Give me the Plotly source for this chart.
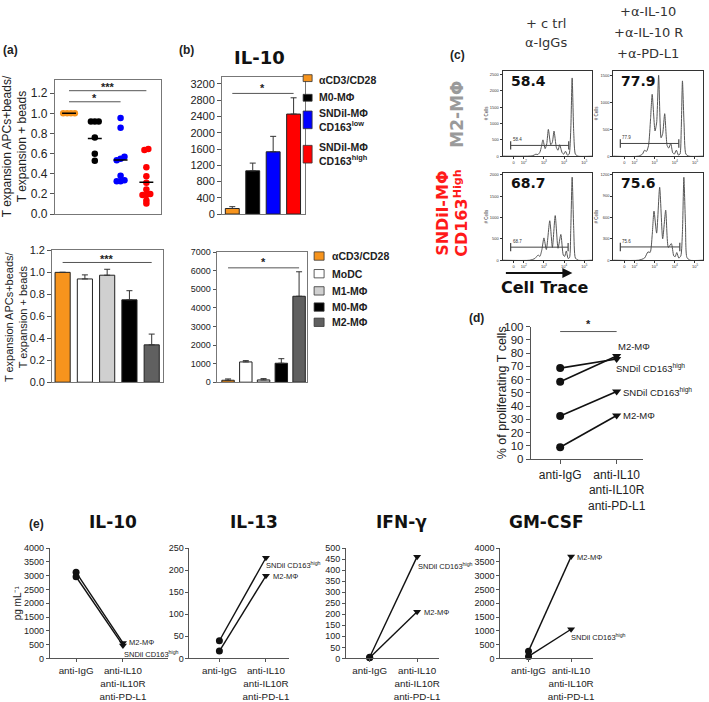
import plotly.graph_objects as go

W, H = 709, 702
FONT = "Liberation Sans, Arial, sans-serif"
VFONT = "DejaVu Sans, Verdana, sans-serif"

# ------------------------- DATA -------------------------
# (a) top: dot plot
a_top_colors = ["#F7941D", "#000000", "#0000FF", "#FF0000"]
a_top_values = [
    [1.0, 1.0, 1.0, 1.0],
    [0.92, 0.92, 0.92, 0.76, 0.60, 0.53],
    [0.955, 0.857, 0.57, 0.55, 0.535, 0.38, 0.335, 0.325, 0.325],
    [0.645, 0.635, 0.465, 0.375, 0.31, 0.245, 0.20, 0.19, 0.19, 0.135, 0.105],
]
a_top_medians = [1.0, 0.75, 0.537, 0.316]

# (a) bottom: bars
a_bot_colors = ["#F7941D", "#FFFFFF", "#D0D0D0", "#000000", "#606060"]
a_bot_values = [1.0, 0.94, 0.974, 0.75, 0.34]
a_bot_err = [0.0, 0.037, 0.054, 0.083, 0.098]

# (b) top: IL-10 bars
b_top_colors = ["#F7941D", "#000000", "#0000FF", "#FF0000"]
b_top_values = [137, 1064, 1532, 2460]
b_top_err = [45, 190, 380, 400]
b_top_legend = ["αCD3/CD28", "M0-MΦ", "SNDil-MΦ<br>CD163<sup>low</sup>", "SNDil-MΦ<br>CD163<sup>high</sup>"]

# (b) bottom bars
b_bot_colors = ["#F7941D", "#FFFFFF", "#D0D0D0", "#000000", "#606060"]
b_bot_values = [105, 1090, 123, 1020, 4622]
b_bot_err = [70, 70, 70, 245, 1318]
b_bot_legend = ["αCD3/CD28", "MoDC", "M1-MΦ", "M0-MΦ", "M2-MΦ"]

# (c) flow histograms (x in decades of Cell Trace, y = # cells)
h_tl_x = [0.9, 2.2, 2.45, 2.6, 2.7, 2.8, 2.88, 2.95, 3.06, 3.14, 3.22, 3.34, 3.42, 3.5, 3.62, 3.7, 3.78, 3.9, 3.98, 4.07, 4.17, 4.25, 4.33, 4.4, 4.48, 4.56, 4.7, 5.4]
h_tl_y = [0, 0, 15, 60, 50, 120, 300, 500, 230, 380, 820, 350, 430, 770, 260, 180, 350, 110, 60, 150, 30, 60, 800, 2400, 700, 60, 0, 0]
h_tr_x = [0.9, 2.2, 2.4, 2.5, 2.6, 2.7, 2.8, 2.88, 3.02, 3.1, 3.2, 3.32, 3.4, 3.5, 3.62, 3.7, 3.8, 3.9, 3.98, 4.08, 4.18, 4.26, 4.32, 4.38, 4.46, 4.55, 4.7, 5.4]
h_tr_y = [0, 0, 40, 110, 90, 200, 700, 1155, 470, 620, 1510, 343, 420, 793, 200, 150, 237, 60, 40, 112, 20, 40, 500, 1405, 600, 40, 0, 0]
h_bl_x = [0.9, 2.3, 2.55, 2.71, 2.8, 2.9, 3.0, 3.12, 3.29, 3.42, 3.56, 3.7, 3.84, 3.96, 4.03, 4.11, 4.2, 4.27, 4.33, 4.4, 4.48, 4.56, 4.7, 5.4]
h_bl_y = [0, 0, 40, 120, 90, 250, 523, 250, 926, 300, 1047, 280, 604, 120, 90, 217, 40, 60, 700, 1950, 700, 50, 0, 0]
h_br_x = [0.9, 2.2, 2.5, 2.67, 2.78, 2.88, 2.97, 3.1, 3.25, 3.4, 3.55, 3.68, 3.83, 3.95, 4.02, 4.1, 4.2, 4.3, 4.38, 4.45, 4.53, 4.6, 4.75, 5.4]
h_br_y = [0, 0, 30, 116, 110, 350, 688, 380, 1023, 300, 702, 180, 233, 60, 50, 107, 30, 60, 400, 1163, 500, 40, 0, 0]
h_pct = ["58.4", "77.9", "68.7", "75.6"]
h_gates = [[1.35, 4.23, 330], [1.3, 4.2, 237], [1.35, 4.2, 306], [1.3, 4.25, 186]]
h_ymax = [2620, 1594, 2050, 1225]
h_dtick = [500, 500, 500, 300]
h_ticks_x = [1.5, 2, 3, 4, 5]
h_ticks_txt = ["0", "10<sup>2</sup>", "10<sup>3</sup>", "10<sup>4</sup>", "10<sup>5</sup>"]

# (d) proliferating T cells
cond_labels = ["anti-IgG", "anti-IL10<br>anti-IL10R<br>anti-PD-L1"]
d_m2_a = [58.4, 77.9]
d_snd_a = [68.7, 75.6]
d_snd_b = [32.5, 51.0]
d_m2_b = [9.0, 33.0]

# (e) cytokines, pg/mL
e_titles = ["IL-10", "IL-13", "IFN-γ", "GM-CSF"]
e_m2 = [[3120, 560], [16.5, 187], [3, 211], [263, 3690]]
e_snd = [[2960, 470], [40, 228], [5, 461], [70, 1057]]
e_ymax = [4000, 250, 500, 4000]
e_dtick = [500, 50, 50, 500]

SND = "SNDil CD163<sup>high</sup>"
M2 = "M2-MΦ"

# ------------------------- HELPERS -------------------------
fig = go.Figure()
annotations = []
shapes = []
lay = {}


def names(n):
    if n == 1:
        return "xaxis", "yaxis", "x", "y"
    return f"xaxis{n}", f"yaxis{n}", f"x{n}", f"y{n}"


def axes(n, xpx, ypx, xopt, yopt):
    xa, ya, xr, yr = names(n)
    base = dict(showgrid=False, zeroline=False, showline=True, linecolor="#555", linewidth=1)
    xd = dict(base, domain=[xpx[0] / W, xpx[1] / W], anchor=yr)
    xd.update(xopt)
    yd = dict(base, domain=[1 - ypx[1] / H, 1 - ypx[0] / H], anchor=xr)
    yd.update(yopt)
    lay[xa] = xd
    lay[ya] = yd
    return xr, yr


def ann(text, x, y, size=11, color="#222", bold=False, font=FONT, angle=0,
        xanchor="center", yanchor="middle", xref="paper", yref="paper", align="center"):
    if bold:
        text = f"<b>{text}</b>"
    if xref == "paper":
        x = x / W
    if yref == "paper":
        y = 1 - y / H
    annotations.append(dict(text=text, x=x, y=y, xref=xref, yref=yref, showarrow=False,
                            font=dict(size=size, color=color, family=font), textangle=angle,
                            xanchor=xanchor, yanchor=yanchor, align=align))


def sig(xr, yr, x0, x1, y, star, ystar):
    shapes.append(dict(type="line", xref=xr, yref=yr, x0=x0, x1=x1, y0=y, y1=y,
                       line=dict(color="#555", width=1)))
    annotations.append(dict(text=f"<b>{star}</b>", x=(x0 + x1) / 2, y=ystar, xref=xr, yref=yr,
                            showarrow=False, font=dict(size=11, color="#222", family=FONT)))


def beeswarm(vals, step=0.15, thr=0.03):
    s = sorted(range(len(vals)), key=lambda i: vals[i])
    clusters, cur = [], [s[0]]
    for i in s[1:]:
        if abs(vals[i] - vals[cur[-1]]) < thr:
            cur.append(i)
        else:
            clusters.append(cur)
            cur = [i]
    clusters.append(cur)
    off = [0.0] * len(vals)
    for c in clusters:
        n = len(c)
        for k, i in enumerate(c):
            off[i] = (k - (n - 1) / 2) * step
    return off


box_ax = dict(mirror=True, linecolor="#777")
yfont = dict(size=12, color="#222", family=FONT)

# ------------------------- (a) top -------------------------
xr, yr = axes(1, (55, 161), (75, 212),
              dict(box_ax, range=[-0.55, 3.55], showticklabels=False, ticks=""),
              dict(box_ax, range=[0, 1.335], tickvals=[0, 0.2, 0.4, 0.6, 0.8, 1.0, 1.2],
                   tickformat=".1f", ticks="outside", ticklen=4, tickcolor="#555", tickfont=yfont))
for g, vals in enumerate(a_top_values):
    off = beeswarm(vals)
    fig.add_trace(go.Scatter(x=[g + o for o in off], y=vals, mode="markers", xaxis=xr, yaxis=yr,
                             marker=dict(color=a_top_colors[g], size=6.5), showlegend=False))
    fig.add_trace(go.Scatter(x=[g - 0.27, g + 0.27], y=[a_top_medians[g]] * 2, mode="lines",
                             xaxis=xr, yaxis=yr, line=dict(color="black", width=1.5), showlegend=False))
sig(xr, yr, 0, 3, 1.225, "***", 1.265)
sig(xr, yr, 0, 2, 1.115, "*", 1.155)
ann("T expansion APCs+beads/<br>T expansion + beads", 15, 143, size=12, angle=-90)
ann("(a)", 11, 45, size=12, bold=True)

# ------------------------- (a) bottom -------------------------
xr, yr = axes(2, (52.3, 163.3), (249, 383.3),
              dict(box_ax, range=[-0.47, 4.5], showticklabels=False, ticks=""),
              dict(box_ax, range=[0, 1.2], tickvals=[0, 0.2, 0.4, 0.6, 0.8, 1.0, 1.2],
                   tickformat=".1f", ticks="outside", ticklen=4, tickcolor="#555",
                   tickfont=dict(size=11, color="#222", family=FONT)))
fig.add_trace(go.Bar(x=list(range(5)), y=a_bot_values, width=0.68, xaxis=xr, yaxis=yr,
                     marker=dict(color=a_bot_colors, line=dict(color="#222", width=1)),
                     error_y=dict(type="data", array=a_bot_err, arrayminus=[0] * 5, symmetric=False,
                                  color="#333", thickness=1, width=3), showlegend=False))
sig(xr, yr, 0, 4, 1.09, "***", 1.125)
ann("T expansion APCs+beads/<br>T expansion + beads", 16, 316, size=11, angle=-90)

# ------------------------- (b) top -------------------------
xr, yr = axes(3, (222.7, 305.7), (72, 212),
              dict(box_ax, range=[-0.5, 3.55], showticklabels=False, ticks=""),
              dict(box_ax, range=[0, 3380], dtick=400, ticks="outside", ticklen=4, tickcolor="#555",
                   tickfont=dict(size=11, color="#222", family=FONT)))
fig.add_trace(go.Bar(x=list(range(4)), y=b_top_values, width=0.68, xaxis=xr, yaxis=yr,
                     marker=dict(color=b_top_colors, line=dict(color="#222", width=1)),
                     error_y=dict(type="data", array=b_top_err, arrayminus=[0] * 4, symmetric=False,
                                  color="#333", thickness=1, width=3), showlegend=False))
sig(xr, yr, 0, 3, 2968, "*", 3110)
ann("IL-10", 260, 52, size=18, bold=True, font=VFONT, color="#111")
ann("(b)", 187, 45, size=12, bold=True)

leg_top_rects = [(70, 77), (90, 97), (107, 125), (142, 160)]
leg_top_text_y = [75, 93, 116, 151]
for i, (y0, y1) in enumerate(leg_top_rects):
    shapes.append(dict(type="rect", xref="paper", yref="paper", x0=304 / W, x1=313 / W,
                       y0=1 - y1 / H, y1=1 - y0 / H, fillcolor=b_top_colors[i],
                       line=dict(color="#333", width=0.8)))
    ann(b_top_legend[i], 318, leg_top_text_y[i], size=10.5, bold=True, xanchor="left", align="left")

# ------------------------- (b) bottom -------------------------
xr, yr = axes(4, (217.3, 308.3), (250.7, 383.3),
              dict(box_ax, range=[-0.64, 4.47], showticklabels=False, ticks=""),
              dict(box_ax, range=[0, 7000], dtick=1000, ticks="outside", ticklen=3, tickcolor="#555",
                   tickfont=dict(size=9, color="#222", family=FONT)))
fig.add_trace(go.Bar(x=list(range(5)), y=b_bot_values, width=0.7, xaxis=xr, yaxis=yr,
                     marker=dict(color=b_bot_colors, line=dict(color="#222", width=1)),
                     error_y=dict(type="data", array=b_bot_err, arrayminus=[0] * 5, symmetric=False,
                                  color="#333", thickness=1, width=3), showlegend=False))
sig(xr, yr, 0, 4, 6150, "*", 6450)
leg_bot_rects = [(250.5, 259), (268.5, 277), (286, 294.5), (302.5, 311), (318, 326.5)]
for i, (y0, y1) in enumerate(leg_bot_rects):
    shapes.append(dict(type="rect", xref="paper", yref="paper", x0=315 / W, x1=325 / W,
                       y0=1 - y1 / H, y1=1 - y0 / H, fillcolor=b_bot_colors[i],
                       line=dict(color="#333", width=0.8)))
    ann(b_bot_legend[i], 331, (y0 + y1) / 2, size=10.5, bold=True, xanchor="left", align="left")

# ------------------------- (c) histograms -------------------------
hists = [(h_tl_x, h_tl_y), (h_tr_x, h_tr_y), (h_bl_x, h_bl_y), (h_br_x, h_br_y)]
hist_boxes = [((504, 594), (66, 153)), ((615, 705), (66, 153)),
              ((504, 594), (170, 259)), ((615, 705), (170, 259))]
tiny = dict(size=4, color="#333", family=FONT)
for k in range(4):
    n = 5 + k
    xpx, ypx = hist_boxes[k]
    xr, yr = axes(n, xpx, ypx,
                  dict(mirror=True, linecolor="#333", range=[0.95, 5.4], tickvals=h_ticks_x,
                       ticktext=h_ticks_txt, ticks="outside", ticklen=2, tickcolor="#333", tickfont=tiny,
                       tickangle=0),
                  dict(mirror=True, linecolor="#333", range=[0, h_ymax[k]], dtick=h_dtick[k],
                       ticks="outside", ticklen=2, tickcolor="#333", tickfont=tiny,
                       title=dict(text="# Cells", font=dict(size=4.5, family=FONT, color="#333"), standoff=1)))
    hx, hy = hists[k]
    fig.add_trace(go.Scatter(x=hx, y=hy, mode="lines", xaxis=xr, yaxis=yr,
                             line=dict(color="#555", width=1, shape="spline", smoothing=0.6),
                             showlegend=False))
    gx0, gx1, gy = h_gates[k]
    fig.add_trace(go.Scatter(x=[gx0, gx1], y=[gy, gy], mode="lines+markers", xaxis=xr, yaxis=yr,
                             line=dict(color="#444", width=1),
                             marker=dict(symbol="line-ns-open", size=6, line=dict(color="#333", width=1.2)),
                             showlegend=False))
    annotations.append(dict(text=h_pct[k], x=gx0, y=gy, xref=xr, yref=yr, showarrow=False,
                            xanchor="left", yanchor="bottom", yshift=1,
                            font=dict(size=4.5, color="#333", family=FONT)))
    ann(h_pct[k], xpx[0] + 6, ypx[0] + 10, size=14, bold=True, font=VFONT, color="#111", xanchor="left")

ann("+ c trl", 548, 18, size=13, font=VFONT, color="#333")
ann("α-IgGs", 548, 37, size=13, font=VFONT, color="#333")
ann("+α-IL-10", 650, 6, size=13, font=VFONT, color="#333")
ann("+α-IL-10 R", 650, 27, size=13, font=VFONT, color="#333")
ann("+α-PD-L1", 650, 48, size=13, font=VFONT, color="#333")
ann("(c)", 459, 50, size=12, bold=True)
ann("M2-MΦ", 458, 110, size=17, bold=True, font=VFONT, color="#9A9A9A", angle=-90)
ann("SNDil-MΦ", 443, 211, size=16, bold=True, font=VFONT, color="#FF1A1A", angle=-90)
ann("CD163<sup>High</sup>", 462, 211, size=16, bold=True, font=VFONT, color="#FF1A1A", angle=-90)
ann("Cell Trace", 546, 287, size=16, bold=True, font=VFONT, color="#111")
annotations.append(dict(text="", x=574 / W, y=1 - 272 / H, xref="paper", yref="paper", ax=-68, ay=0,
                        showarrow=True, arrowhead=2, arrowsize=1, arrowwidth=2, arrowcolor="#111"))

# ------------------------- (d) -------------------------
cat_font = dict(size=12, color="#222", family=FONT)
xr, yr = axes(9, (532.3, 645), (326.7, 461.7),
              dict(range=[-0.52, 1.47], tickvals=[0, 1], ticktext=cond_labels, ticks="outside",
                   ticklen=4, tickcolor="#555", tickfont=cat_font, tickangle=0),
              dict(range=[0, 100], dtick=10, ticks="outside", ticklen=4, tickcolor="#555",
                   tickfont=dict(size=11.5, color="#222", family=FONT)))
for series in [d_m2_a, d_snd_a, d_snd_b, d_m2_b]:
    fig.add_trace(go.Scatter(x=[0, 1], y=series, mode="lines+markers", xaxis=xr, yaxis=yr,
                             line=dict(color="#111", width=1.6),
                             marker=dict(symbol=["circle", "triangle-down"], size=8, color="#111"),
                             showlegend=False, cliponaxis=False))
shapes.append(dict(type="line", xref=xr, yref=yr, x0=0, x1=1, y0=96.3, y1=96.3,
                   line=dict(color="#555", width=1)))
ann("*", 590, 324, size=11, bold=True)
for txt, x, y in [(M2, 0.99, 85), (SND, 0.95, 68.5), (SND, 1.08, 50.8), (M2, 1.08, 33)]:
    ann(txt, x, y, size=9.5, xanchor="left", xref=xr, yref=yr)
ann("% of proliferating T cells", 503, 394, size=12.5, angle=-90)
ann("(d)", 478, 318, size=12, bold=True)

# ------------------------- (e) -------------------------
e_xpx = [(50, 168), (190, 290), (347, 440), (501.7, 595)]
e_cats = [(76.3, 123.3), (220, 266.7), (370.7, 418.3), (530, 572.7)]
e_title_x = [113, 255, 403, 548]
e_labels = [
    [(M2, 1.08, 560), (SND, 0.97, 170)],
    [(SND, 0.96, 211), (M2, 1.11, 186)],
    [(SND, 0.97, 421), (M2, 1.10, 208)],
    [(M2, 1.10, 3655), (SND, 0.94, 772)],
]
for k in range(4):
    n = 10 + k
    x0, x1 = e_xpx[k]
    c0, c1 = e_cats[k]
    sp = c1 - c0
    yopt = dict(range=[0, e_ymax[k]], dtick=e_dtick[k], ticks="outside", ticklen=3,
                tickcolor="#555", tickfont=dict(size=9, color="#222", family=FONT))
    if k == 0:
        yopt["title"] = dict(text="pg mL⁻¹", font=dict(size=10, color="#222", family=FONT), standoff=0)
    xr, yr = axes(n, (x0, x1), (552.3, 664.7),
                  dict(range=[(x0 - c0) / sp, (x1 - c0) / sp], tickvals=[0, 1], ticktext=cond_labels,
                       ticks="outside", ticklen=3, tickcolor="#555", tickangle=0,
                       tickfont=dict(size=9.8, color="#222", family=FONT)),
                  yopt)
    for series in [e_m2[k], e_snd[k]]:
        fig.add_trace(go.Scatter(x=[0, 1], y=series, mode="lines+markers", xaxis=xr, yaxis=yr,
                                 line=dict(color="#111", width=1.4),
                                 marker=dict(symbol=["circle", "triangle-down"], size=7, color="#111"),
                                 showlegend=False, cliponaxis=False))
    for txt, x, y in e_labels[k]:
        ann(txt, x, y, size=7.5, xanchor="left", xref=xr, yref=yr)
    ann(e_titles[k], e_title_x[k], 526, size=17, bold=True, font=VFONT, color="#111")
ann("(e)", 37, 528, size=12, bold=True)

fig.update_layout(width=W, height=H, autosize=False, margin=dict(l=0, r=0, t=0, b=0),
                  paper_bgcolor="white", plot_bgcolor="white", showlegend=False, hovermode=False,
                  annotations=annotations, shapes=shapes, bargap=0, **lay)
fig.write_html("out.html", config={"displayModeBar": False, "staticPlot": True},
               post_script="document.body.style.margin='0';document.body.style.overflow='hidden';")
